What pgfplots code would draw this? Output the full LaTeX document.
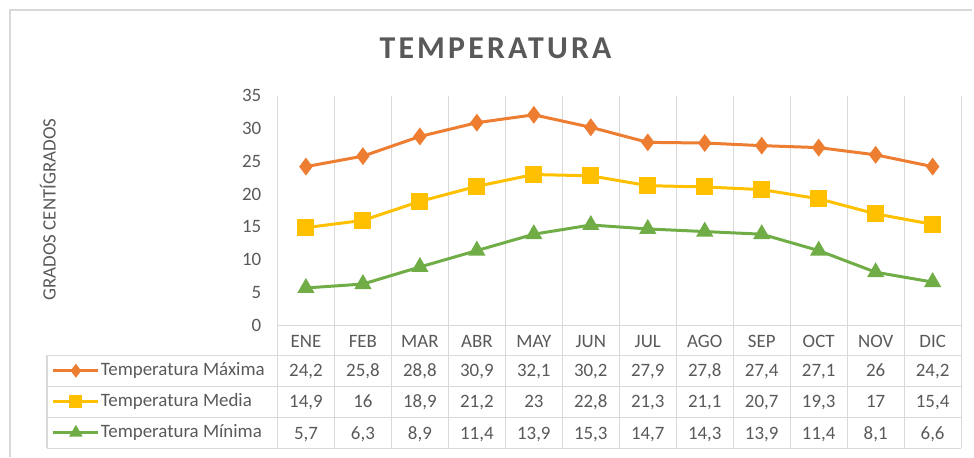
\documentclass[border=0pt]{standalone}
\usepackage{fontspec}
\setmainfont{Carlito}
\newfontfamily\titlefont[LetterSpace=10]{Carlito}
\usepackage{pgfplots}
\pgfplotsset{compat=1.18}
\definecolor{txt}{HTML}{595959}
\definecolor{grd}{HTML}{D9D9D9}
\definecolor{cmax}{HTML}{ED7D31}
\definecolor{cmed}{HTML}{FFC000}
\definecolor{cmin}{HTML}{70AD47}
\begin{document}
\begin{tikzpicture}
\begin{scope}[x=1bp,y=1bp]
\path[use as bounding box] (0,0) rectangle (974,458);
\draw[grd, line width=1.5bp] (10,0) -- (10,448) -- (974,448);
\node[font=\titlefont\bfseries\fontsize{32}{38}\selectfont, text=txt, inner sep=0pt] at (496.5,409.5) {TEMPERATURA};
\node[rotate=90, font=\fontsize{19}{22}\selectfont, text=txt] at (48,248) {GRADOS CENTÍGRADOS};
\end{scope}
\begin{axis}[at={(278bp,132bp)}, anchor=south west, scale only axis,
  width=685bp, height=230bp,
  xmin=0, xmax=12, ymin=0, ymax=35,
  xtick={0,...,12}, ytick={0,5,...,35},
  x tick label style={text opacity=0},
  xmajorgrids, major grid style={grd, line width=1.2bp},
  axis line style={draw=none}, major tick length=0pt,
  tick label style={font=\fontsize{19}{22}\selectfont, text=txt},
  /pgf/number format/assume math mode=true,
  y tick label style={anchor=east, inner sep=0pt, xshift=-16bp},
  clip=false,
  legend cell align=left,
  legend style={at={(axis description cs:-0.3299,-0.1609)}, anchor=north west,
    draw=none, fill=none, inner sep=0pt, outer sep=0pt,
    /tikz/row sep=14bp, /tikz/column sep=1bp,
    nodes={inner sep=0pt, outer sep=0pt, text height=13bp, text depth=4bp,
      font=\fontsize{19}{22}\selectfont, text=txt}},
  legend image code/.code={\draw[mark repeat=2, mark phase=2, every mark/.append style={scale=0.7}]
     plot coordinates {(0bp,0bp) (22.5bp,0bp) (45bp,0bp)};},
]
\addplot[cmax, line width=3bp, mark=diamond*, mark size=6.5bp, mark options={solid}] table {
x y
0.5 24.2
1.5 25.8
2.5 28.8
3.5 30.9
4.5 32.1
5.5 30.2
6.5 27.9
7.5 27.8
8.5 27.4
9.5 27.1
10.5 26
11.5 24.2
};
\addlegendentry{Temperatura Máxima}
\addplot[cmed, line width=3bp, mark=square*, mark size=7bp, mark options={solid}] table {
x y
0.5 14.9
1.5 16
2.5 18.9
3.5 21.2
4.5 23
5.5 22.8
6.5 21.3
7.5 21.1
8.5 20.7
9.5 19.3
10.5 17
11.5 15.4
};
\addlegendentry{Temperatura Media}
\addplot[cmin, line width=3bp, mark=triangle*, mark size=7bp, mark options={solid}] table {
x y
0.5 5.7
1.5 6.3
2.5 8.9
3.5 11.4
4.5 13.9
5.5 15.3
6.5 14.7
7.5 14.3
8.5 13.9
9.5 11.4
10.5 8.1
11.5 6.6
};
\addlegendentry{Temperatura Mínima}
\end{axis}
\begin{scope}[x=1bp,y=1bp]
\draw[grd, line width=1.2bp] (278,132) -- (963,132);
\foreach \yy in {102,71,40,9} {\draw[grd, line width=1.2bp] (47,\yy) -- (963,\yy);}
\draw[grd, line width=1.2bp] (47,102) -- (47,9);
\foreach \i in {0,...,12} {\draw[grd, line width=1.2bp] ({278+57.0833*\i},132) -- ({278+57.0833*\i},9);}
\begin{scope}[every node/.style={font=\fontsize{19}{22}\selectfont, text=txt, anchor=base, inner sep=0pt}]
\foreach \m [count=\i from 0] in {ENE,FEB,MAR,ABR,MAY,JUN,JUL,AGO,SEP,OCT,NOV,DIC}
  {\node at ({306.54+57.0833*\i},110) {\m};}
\foreach \v [count=\i from 0] in {{24,2},{25,8},{28,8},{30,9},{32,1},{30,2},{27,9},{27,8},{27,4},{27,1},{26},{24,2}}
  {\node at ({306.54+57.0833*\i},81) {\v};}
\foreach \v [count=\i from 0] in {{14,9},{16},{18,9},{21,2},{23},{22,8},{21,3},{21,1},{20,7},{19,3},{17},{15,4}}
  {\node at ({306.54+57.0833*\i},50) {\v};}
\foreach \v [count=\i from 0] in {{5,7},{6,3},{8,9},{11,4},{13,9},{15,3},{14,7},{14,3},{13,9},{11,4},{8,1},{6,6}}
  {\node at ({306.54+57.0833*\i},18) {\v};}
\end{scope}
\end{scope}
\end{tikzpicture}
\end{document}
